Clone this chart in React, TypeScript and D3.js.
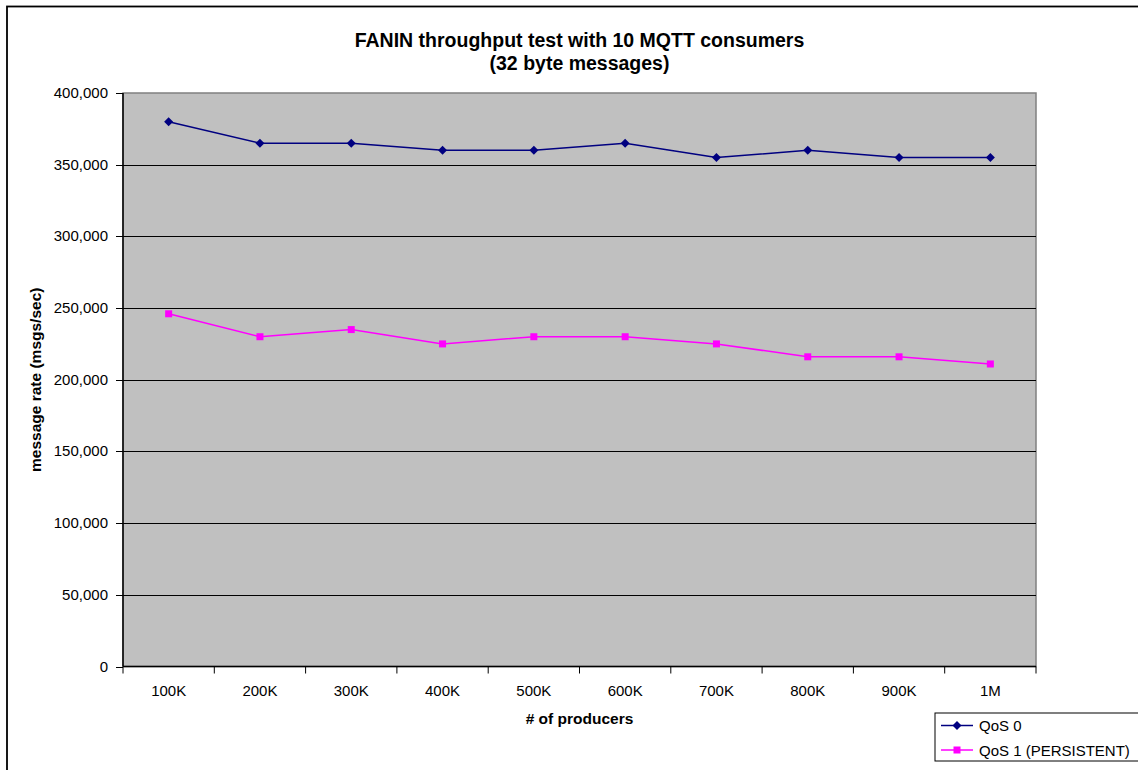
import React from "react";
import * as d3 from "d3";

// Producer counts along the x axis
const categories: string[] = ["100K", "200K", "300K", "400K", "500K", "600K", "700K", "800K", "900K", "1M"];

// Message rates (msgs/sec) per series
const qos0: number[] = [380000, 365000, 365000, 360000, 360000, 365000, 355000, 360000, 355000, 355000];
const qos1: number[] = [246000, 230000, 235000, 225000, 230000, 230000, 225000, 216000, 216000, 211000];

const yTicks: number[] = [0, 50000, 100000, 150000, 200000, 250000, 300000, 350000, 400000];

const seriesNames: string[] = ["QoS 0", "QoS 1 (PERSISTENT)"];

const W = 1138;
const H = 770;
const plot = { left: 123, top: 93, right: 1036, bottom: 666.5 };
const FONT = "'Liberation Sans', Arial, sans-serif";

const NAVY = "#000080";
const MAGENTA = "#FF00FF";

function Diamond({ x, y, r, fill }: { x: number; y: number; r: number; fill: string }) {
  return <path d={`M${x},${y - r}L${x + r},${y}L${x},${y + r}L${x - r},${y}Z`} fill={fill} />;
}

function Square({ x, y, s, fill }: { x: number; y: number; s: number; fill: string }) {
  return <rect x={x - s / 2} y={y - s / 2} width={s} height={s} fill={fill} />;
}

export default function App() {
  const x = d3.scaleBand<string>().domain(categories).range([plot.left, plot.right]).padding(0);
  const y = d3.scaleLinear().domain([0, 400000]).range([plot.bottom, plot.top]);
  const cx = (c: string) => (x(c) as number) + x.bandwidth() / 2;
  const fmt = d3.format(",");

  const line = d3
    .line<number>()
    .x((_, i) => cx(categories[i]))
    .y((d) => y(d));

  const boundaries = categories.map((c) => x(c) as number).concat([plot.right]);

  const legend = { left: 935, top: 713, bottom: 761 };

  return (
    <svg
      width={W}
      height={H}
      style={{ position: "absolute", left: 0, top: 0, background: "#fff" }}
      fontFamily={FONT}
    >
      {/* chart frame */}
      <rect x={7} y={6.5} width={W + 20} height={H + 20} fill="#fff" stroke="#000" strokeWidth={1.8} />

      {/* title */}
      <text x={(plot.left + plot.right) / 2} textAnchor="middle" fontWeight="bold" fontSize={19.5} fill="#000">
        <tspan x={(plot.left + plot.right) / 2} y={47}>FANIN throughput test with 10 MQTT consumers</tspan>
        <tspan x={(plot.left + plot.right) / 2} y={70}>(32 byte messages)</tspan>
      </text>

      {/* plot area */}
      <rect
        x={plot.left}
        y={plot.top}
        width={plot.right - plot.left}
        height={plot.bottom - plot.top}
        fill="#C0C0C0"
        stroke="#808080"
        strokeWidth={1.5}
      />

      {/* horizontal gridlines */}
      {yTicks.slice(1, -1).map((t) => (
        <line key={t} x1={plot.left} x2={plot.right} y1={Math.round(y(t)) + 0.5} y2={Math.round(y(t)) + 0.5} stroke="#000" strokeWidth={1} />
      ))}

      {/* y axis */}
      <line x1={plot.left} x2={plot.left} y1={plot.top} y2={plot.bottom} stroke="#000" strokeWidth={1.5} />
      {yTicks.map((t) => (
        <g key={t}>
          <line x1={plot.left - 7} x2={plot.left} y1={Math.round(y(t)) + 0.5} y2={Math.round(y(t)) + 0.5} stroke="#000" strokeWidth={1} />
          <text x={108} y={y(t) + 5} textAnchor="end" fontSize={15} fill="#000">
            {fmt(t)}
          </text>
        </g>
      ))}

      {/* x axis */}
      <line x1={plot.left} x2={plot.right} y1={plot.bottom} y2={plot.bottom} stroke="#000" strokeWidth={1.5} />
      {boundaries.map((b, i) => (
        <line key={i} x1={b} x2={b} y1={plot.bottom} y2={plot.bottom + 7} stroke="#000" strokeWidth={1} />
      ))}
      {categories.map((c) => (
        <text key={c} x={cx(c)} y={696} textAnchor="middle" fontSize={15} fill="#000">
          {c}
        </text>
      ))}

      {/* axis titles */}
      <text x={(plot.left + plot.right) / 2} y={724} textAnchor="middle" fontWeight="bold" fontSize={15.5} fill="#000">
        # of producers
      </text>
      <text
        transform={`translate(41,${(plot.top + plot.bottom) / 2}) rotate(-90)`}
        textAnchor="middle"
        fontWeight="bold"
        fontSize={15.5}
        fill="#000"
      >
        message rate (msgs/sec)
      </text>

      {/* series */}
      <path d={line(qos1) ?? ""} fill="none" stroke={MAGENTA} strokeWidth={1.5} />
      {qos1.map((v, i) => (
        <Square key={i} x={cx(categories[i])} y={y(v)} s={7} fill={MAGENTA} />
      ))}
      <path d={line(qos0) ?? ""} fill="none" stroke={NAVY} strokeWidth={1.5} />
      {qos0.map((v, i) => (
        <Diamond key={i} x={cx(categories[i])} y={y(v)} r={4.5} fill={NAVY} />
      ))}

      {/* legend */}
      <rect
        x={legend.left}
        y={legend.top}
        width={W + 10 - legend.left}
        height={legend.bottom - legend.top}
        fill="#fff"
        stroke="#000"
        strokeWidth={1}
      />
      <line x1={941} x2={973} y1={725.5} y2={725.5} stroke={NAVY} strokeWidth={1.5} />
      <Diamond x={957} y={725.5} r={4.5} fill={NAVY} />
      <text x={979} y={731} fontSize={15} fill="#000">
        {seriesNames[0]}
      </text>
      <line x1={941} x2={973} y1={750} y2={750} stroke={MAGENTA} strokeWidth={1.5} />
      <Square x={957} y={750} s={7} fill={MAGENTA} />
      <text x={979} y={756} fontSize={15} fill="#000">
        {seriesNames[1]}
      </text>
    </svg>
  );
}
